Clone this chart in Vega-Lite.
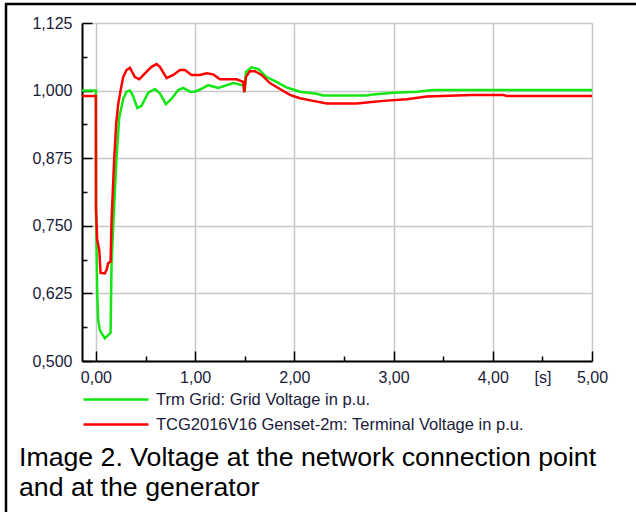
{
  "$schema": "https://vega.github.io/schema/vega-lite/v6.json",
  "width": 640,
  "height": 520,
  "autosize": {"type": "none"},
  "padding": {"left": 6, "top": 4, "right": 0, "bottom": 0},
  "background": "white",
  "view": {"stroke": "#000000", "strokeWidth": 2.5, "fill": null},
  "title": {
    "text": ["Image 2. Voltage at the network connection point", "and at the generator"],
    "orient": "top",
    "anchor": "start",
    "frame": "group",
    "font": "Liberation Sans",
    "fontSize": 26.7,
    "fontWeight": "normal",
    "color": "#000000",
    "lineHeight": 30,
    "baseline": "alphabetic",
    "offset": 0,
    "dx": 13,
    "dy": 519
  },
  "data": {
    "values": [
      {"series": "Trm Grid: Grid Voltage in p.u.", "t": -0.14, "v": 1.0},
      {"series": "Trm Grid: Grid Voltage in p.u.", "t": 0.0, "v": 1.0},
      {"series": "Trm Grid: Grid Voltage in p.u.", "t": 0.001, "v": 0.78},
      {"series": "Trm Grid: Grid Voltage in p.u.", "t": 0.013, "v": 0.626},
      {"series": "Trm Grid: Grid Voltage in p.u.", "t": 0.023, "v": 0.576},
      {"series": "Trm Grid: Grid Voltage in p.u.", "t": 0.04, "v": 0.557},
      {"series": "Trm Grid: Grid Voltage in p.u.", "t": 0.09, "v": 0.542},
      {"series": "Trm Grid: Grid Voltage in p.u.", "t": 0.124, "v": 0.548},
      {"series": "Trm Grid: Grid Voltage in p.u.", "t": 0.148, "v": 0.552},
      {"series": "Trm Grid: Grid Voltage in p.u.", "t": 0.158, "v": 0.681},
      {"series": "Trm Grid: Grid Voltage in p.u.", "t": 0.175, "v": 0.75},
      {"series": "Trm Grid: Grid Voltage in p.u.", "t": 0.208, "v": 0.875},
      {"series": "Trm Grid: Grid Voltage in p.u.", "t": 0.235, "v": 0.95},
      {"series": "Trm Grid: Grid Voltage in p.u.", "t": 0.276, "v": 0.985},
      {"series": "Trm Grid: Grid Voltage in p.u.", "t": 0.309, "v": 0.998},
      {"series": "Trm Grid: Grid Voltage in p.u.", "t": 0.343, "v": 1.0},
      {"series": "Trm Grid: Grid Voltage in p.u.", "t": 0.375, "v": 0.99},
      {"series": "Trm Grid: Grid Voltage in p.u.", "t": 0.417, "v": 0.968},
      {"series": "Trm Grid: Grid Voltage in p.u.", "t": 0.46, "v": 0.972},
      {"series": "Trm Grid: Grid Voltage in p.u.", "t": 0.528, "v": 0.996},
      {"series": "Trm Grid: Grid Voltage in p.u.", "t": 0.595, "v": 1.003},
      {"series": "Trm Grid: Grid Voltage in p.u.", "t": 0.645, "v": 0.995},
      {"series": "Trm Grid: Grid Voltage in p.u.", "t": 0.706, "v": 0.975},
      {"series": "Trm Grid: Grid Voltage in p.u.", "t": 0.763, "v": 0.985},
      {"series": "Trm Grid: Grid Voltage in p.u.", "t": 0.83, "v": 1.001},
      {"series": "Trm Grid: Grid Voltage in p.u.", "t": 0.88, "v": 1.005},
      {"series": "Trm Grid: Grid Voltage in p.u.", "t": 0.948, "v": 0.998},
      {"series": "Trm Grid: Grid Voltage in p.u.", "t": 0.998, "v": 0.998},
      {"series": "Trm Grid: Grid Voltage in p.u.", "t": 1.048, "v": 1.002},
      {"series": "Trm Grid: Grid Voltage in p.u.", "t": 1.132, "v": 1.01},
      {"series": "Trm Grid: Grid Voltage in p.u.", "t": 1.233, "v": 1.005},
      {"series": "Trm Grid: Grid Voltage in p.u.", "t": 1.317, "v": 1.01},
      {"series": "Trm Grid: Grid Voltage in p.u.", "t": 1.384, "v": 1.014},
      {"series": "Trm Grid: Grid Voltage in p.u.", "t": 1.485, "v": 1.01},
      {"series": "Trm Grid: Grid Voltage in p.u.", "t": 1.5, "v": 0.997},
      {"series": "Trm Grid: Grid Voltage in p.u.", "t": 1.512, "v": 1.034},
      {"series": "Trm Grid: Grid Voltage in p.u.", "t": 1.569, "v": 1.043},
      {"series": "Trm Grid: Grid Voltage in p.u.", "t": 1.636, "v": 1.04},
      {"series": "Trm Grid: Grid Voltage in p.u.", "t": 1.72, "v": 1.025},
      {"series": "Trm Grid: Grid Voltage in p.u.", "t": 1.82, "v": 1.016},
      {"series": "Trm Grid: Grid Voltage in p.u.", "t": 1.92, "v": 1.006},
      {"series": "Trm Grid: Grid Voltage in p.u.", "t": 1.989, "v": 1.002},
      {"series": "Trm Grid: Grid Voltage in p.u.", "t": 2.056, "v": 0.998},
      {"series": "Trm Grid: Grid Voltage in p.u.", "t": 2.225, "v": 0.994},
      {"series": "Trm Grid: Grid Voltage in p.u.", "t": 2.292, "v": 0.991},
      {"series": "Trm Grid: Grid Voltage in p.u.", "t": 2.729, "v": 0.991},
      {"series": "Trm Grid: Grid Voltage in p.u.", "t": 2.796, "v": 0.993},
      {"series": "Trm Grid: Grid Voltage in p.u.", "t": 2.997, "v": 0.996},
      {"series": "Trm Grid: Grid Voltage in p.u.", "t": 3.233, "v": 0.998},
      {"series": "Trm Grid: Grid Voltage in p.u.", "t": 3.4, "v": 1.001},
      {"series": "Trm Grid: Grid Voltage in p.u.", "t": 5.0, "v": 1.001},
      {"series": "TCG2016V16 Genset-2m: Terminal Voltage in p.u.", "t": -0.14, "v": 0.99},
      {"series": "TCG2016V16 Genset-2m: Terminal Voltage in p.u.", "t": 0.0, "v": 0.99},
      {"series": "TCG2016V16 Genset-2m: Terminal Voltage in p.u.", "t": 0.001, "v": 0.783},
      {"series": "TCG2016V16 Genset-2m: Terminal Voltage in p.u.", "t": 0.013, "v": 0.724},
      {"series": "TCG2016V16 Genset-2m: Terminal Voltage in p.u.", "t": 0.034, "v": 0.705},
      {"series": "TCG2016V16 Genset-2m: Terminal Voltage in p.u.", "t": 0.047, "v": 0.663},
      {"series": "TCG2016V16 Genset-2m: Terminal Voltage in p.u.", "t": 0.09, "v": 0.662},
      {"series": "TCG2016V16 Genset-2m: Terminal Voltage in p.u.", "t": 0.107, "v": 0.668},
      {"series": "TCG2016V16 Genset-2m: Terminal Voltage in p.u.", "t": 0.124, "v": 0.681},
      {"series": "TCG2016V16 Genset-2m: Terminal Voltage in p.u.", "t": 0.148, "v": 0.684},
      {"series": "TCG2016V16 Genset-2m: Terminal Voltage in p.u.", "t": 0.158, "v": 0.76},
      {"series": "TCG2016V16 Genset-2m: Terminal Voltage in p.u.", "t": 0.165, "v": 0.79},
      {"series": "TCG2016V16 Genset-2m: Terminal Voltage in p.u.", "t": 0.185, "v": 0.875},
      {"series": "TCG2016V16 Genset-2m: Terminal Voltage in p.u.", "t": 0.205, "v": 0.94},
      {"series": "TCG2016V16 Genset-2m: Terminal Voltage in p.u.", "t": 0.225, "v": 0.975},
      {"series": "TCG2016V16 Genset-2m: Terminal Voltage in p.u.", "t": 0.249, "v": 1.0},
      {"series": "TCG2016V16 Genset-2m: Terminal Voltage in p.u.", "t": 0.275, "v": 1.025},
      {"series": "TCG2016V16 Genset-2m: Terminal Voltage in p.u.", "t": 0.309, "v": 1.038},
      {"series": "TCG2016V16 Genset-2m: Terminal Voltage in p.u.", "t": 0.343, "v": 1.042},
      {"series": "TCG2016V16 Genset-2m: Terminal Voltage in p.u.", "t": 0.393, "v": 1.025},
      {"series": "TCG2016V16 Genset-2m: Terminal Voltage in p.u.", "t": 0.437, "v": 1.021},
      {"series": "TCG2016V16 Genset-2m: Terminal Voltage in p.u.", "t": 0.494, "v": 1.032},
      {"series": "TCG2016V16 Genset-2m: Terminal Voltage in p.u.", "t": 0.561, "v": 1.044},
      {"series": "TCG2016V16 Genset-2m: Terminal Voltage in p.u.", "t": 0.612, "v": 1.049},
      {"series": "TCG2016V16 Genset-2m: Terminal Voltage in p.u.", "t": 0.645, "v": 1.044},
      {"series": "TCG2016V16 Genset-2m: Terminal Voltage in p.u.", "t": 0.713, "v": 1.023},
      {"series": "TCG2016V16 Genset-2m: Terminal Voltage in p.u.", "t": 0.78, "v": 1.029},
      {"series": "TCG2016V16 Genset-2m: Terminal Voltage in p.u.", "t": 0.847, "v": 1.038},
      {"series": "TCG2016V16 Genset-2m: Terminal Voltage in p.u.", "t": 0.897, "v": 1.038},
      {"series": "TCG2016V16 Genset-2m: Terminal Voltage in p.u.", "t": 0.964, "v": 1.029},
      {"series": "TCG2016V16 Genset-2m: Terminal Voltage in p.u.", "t": 1.048, "v": 1.029},
      {"series": "TCG2016V16 Genset-2m: Terminal Voltage in p.u.", "t": 1.115, "v": 1.032},
      {"series": "TCG2016V16 Genset-2m: Terminal Voltage in p.u.", "t": 1.182, "v": 1.03},
      {"series": "TCG2016V16 Genset-2m: Terminal Voltage in p.u.", "t": 1.25, "v": 1.021},
      {"series": "TCG2016V16 Genset-2m: Terminal Voltage in p.u.", "t": 1.418, "v": 1.021},
      {"series": "TCG2016V16 Genset-2m: Terminal Voltage in p.u.", "t": 1.485, "v": 1.016},
      {"series": "TCG2016V16 Genset-2m: Terminal Voltage in p.u.", "t": 1.495, "v": 0.997},
      {"series": "TCG2016V16 Genset-2m: Terminal Voltage in p.u.", "t": 1.512, "v": 1.025},
      {"series": "TCG2016V16 Genset-2m: Terminal Voltage in p.u.", "t": 1.552, "v": 1.036},
      {"series": "TCG2016V16 Genset-2m: Terminal Voltage in p.u.", "t": 1.603, "v": 1.036},
      {"series": "TCG2016V16 Genset-2m: Terminal Voltage in p.u.", "t": 1.67, "v": 1.029},
      {"series": "TCG2016V16 Genset-2m: Terminal Voltage in p.u.", "t": 1.754, "v": 1.014},
      {"series": "TCG2016V16 Genset-2m: Terminal Voltage in p.u.", "t": 1.855, "v": 1.003},
      {"series": "TCG2016V16 Genset-2m: Terminal Voltage in p.u.", "t": 1.956, "v": 0.992},
      {"series": "TCG2016V16 Genset-2m: Terminal Voltage in p.u.", "t": 2.056, "v": 0.986},
      {"series": "TCG2016V16 Genset-2m: Terminal Voltage in p.u.", "t": 2.19, "v": 0.981},
      {"series": "TCG2016V16 Genset-2m: Terminal Voltage in p.u.", "t": 2.326, "v": 0.976},
      {"series": "TCG2016V16 Genset-2m: Terminal Voltage in p.u.", "t": 2.628, "v": 0.976},
      {"series": "TCG2016V16 Genset-2m: Terminal Voltage in p.u.", "t": 2.729, "v": 0.978},
      {"series": "TCG2016V16 Genset-2m: Terminal Voltage in p.u.", "t": 2.897, "v": 0.981},
      {"series": "TCG2016V16 Genset-2m: Terminal Voltage in p.u.", "t": 3.132, "v": 0.984},
      {"series": "TCG2016V16 Genset-2m: Terminal Voltage in p.u.", "t": 3.334, "v": 0.989},
      {"series": "TCG2016V16 Genset-2m: Terminal Voltage in p.u.", "t": 3.787, "v": 0.992},
      {"series": "TCG2016V16 Genset-2m: Terminal Voltage in p.u.", "t": 4.106, "v": 0.992},
      {"series": "TCG2016V16 Genset-2m: Terminal Voltage in p.u.", "t": 4.14, "v": 0.99},
      {"series": "TCG2016V16 Genset-2m: Terminal Voltage in p.u.", "t": 5.0, "v": 0.99}
    ]
  },
  "encoding": {
    "x": {
      "field": "t",
      "type": "quantitative",
      "scale": {"domain": [-0.14, 5], "range": [76, 586], "nice": false, "zero": false},
      "axis": {
        "title": null,
        "orient": "top",
        "offset": -357,
        "values": [0, 0.5, 1, 1.5, 2, 2.5, 3, 3.5, 4, 4.5, 5],
        "labelExpr": "datum.value == 4.5 ? '[s]' : (datum.value % 1 == 0 ? replace(format(datum.value, '.2f'), '.', ',') : '')",
        "labelFont": "Liberation Sans",
        "labelFontSize": 16,
        "labelColor": "#1a1a3a",
        "labelBaseline": "top",
        "labelPadding": {"condition": {"test": "datum.value % 1 == 0", "value": -18}, "value": -13},
        "labelFlush": false,
        "labelOverlap": false,
        "domainColor": "#000000",
        "domainWidth": 2,
        "tickColor": "#000000",
        "tickWidth": 1.5,
        "tickSize": {"condition": {"test": "datum.value % 1 == 0", "value": 10}, "value": 5},
        "grid": true,
        "gridColor": "#c8c8c8",
        "gridWidth": 1.5,
        "gridOpacity": {"condition": {"test": "datum.value % 1 == 0", "value": 1}, "value": 0}
      }
    },
    "y": {
      "field": "v",
      "type": "quantitative",
      "scale": {"domain": [0.5, 1.125], "range": [357, 19], "nice": false, "zero": false},
      "axis": {
        "title": null,
        "offset": -76,
        "values": [0.5, 0.5625, 0.625, 0.6875, 0.75, 0.8125, 0.875, 0.9375, 1.0, 1.0625, 1.125],
        "labelExpr": "abs(datum.value * 8 - round(datum.value * 8)) < 0.001 ? replace(format(datum.value, '.3f'), '.', ',') : ''",
        "labelFont": "Liberation Sans",
        "labelFontSize": 16,
        "labelColor": "#1a1a3a",
        "labelPadding": 20,
        "labelOverlap": false,
        "labelFlush": false,
        "domainColor": "#000000",
        "domainWidth": 2,
        "tickColor": "#000000",
        "tickWidth": 1.5,
        "tickSize": {"condition": {"test": "abs(datum.value * 8 - round(datum.value * 8)) < 0.001", "value": -10}, "value": -5},
        "grid": true,
        "gridColor": "#c8c8c8",
        "gridWidth": 1.5,
        "gridOpacity": {"condition": {"test": "abs(datum.value * 8 - round(datum.value * 8)) < 0.001", "value": 1}, "value": 0}
      }
    }
  },
  "layer": [
    {
      "transform": [{"filter": "datum.series == 'Trm Grid: Grid Voltage in p.u.'"}],
      "mark": {"type": "line", "strokeWidth": 2.5},
      "encoding": {
        "color": {
          "field": "series",
          "type": "nominal",
          "scale": {"domain": ["Trm Grid: Grid Voltage in p.u."], "range": ["#14e614"]},
          "legend": {
            "orient": "none",
            "legendX": 76,
            "legendY": 361.5,
            "title": null,
            "padding": 0,
            "symbolType": "stroke",
            "symbolSize": 4225,
            "symbolStrokeWidth": 2.5,
            "labelFont": "Liberation Sans",
            "labelFontSize": 16.5,
            "labelColor": "#1a1a3a",
            "labelOffset": 6,
            "labelLimit": 0
          }
        }
      }
    },
    {
      "transform": [{"filter": "datum.series == 'TCG2016V16 Genset-2m: Terminal Voltage in p.u.'"}],
      "mark": {"type": "line", "strokeWidth": 2.5},
      "encoding": {
        "color": {
          "field": "series",
          "type": "nominal",
          "scale": {"domain": ["TCG2016V16 Genset-2m: Terminal Voltage in p.u."], "range": ["#ff0000"]},
          "legend": {
            "orient": "none",
            "legendX": 76,
            "legendY": 386.5,
            "title": null,
            "padding": 0,
            "symbolType": "stroke",
            "symbolSize": 4225,
            "symbolStrokeWidth": 2.5,
            "labelFont": "Liberation Sans",
            "labelFontSize": 16.5,
            "labelColor": "#1a1a3a",
            "labelOffset": 6,
            "labelLimit": 0
          }
        }
      }
    }
  ],
  "resolve": {"scale": {"color": "independent"}, "legend": {"color": "independent"}}
}
